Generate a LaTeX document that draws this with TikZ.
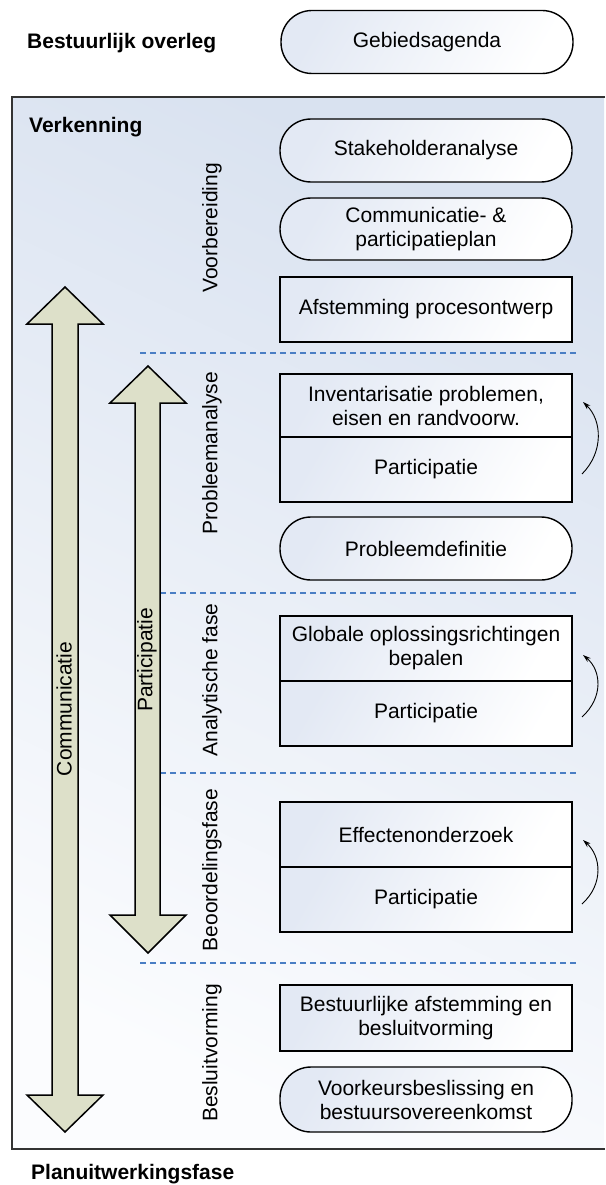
\documentclass[tikz,border=0pt]{standalone}
\usepackage{fontspec}
\setmainfont{Liberation Sans}
\usetikzlibrary{arrows.meta}
\begin{document}
\begin{tikzpicture}[x=1pt,y=-1pt,
  font=\fontsize{21}{24}\selectfont,
  frameline/.style={line width=1.4pt,draw=black!80},
  boxbase/.style={draw=black,line width=1.8pt,minimum width=292pt,inner sep=2pt,
     align=center,shading=axis,left color=boxblue,right color=white,shading angle=60},
  sqbox/.style={boxbase},
  pill/.style={boxbase,line width=1.4pt,rounded corners=31pt},
  phase/.style={rotate=90,inner sep=0pt},
  heading/.style={font=\fontsize{21}{24}\selectfont\bfseries,anchor=west,inner sep=0pt},
  bigarrow/.style={draw=black,line width=1.5pt,fill=arrowfill,line join=miter},
  divider/.style={dashed,dash pattern=on 6pt off 4pt,line width=2.8pt,draw=divblue},
  loop/.style={-{Stealth[length=8pt,width=5pt]},line width=0.9pt}
]
\definecolor{boxblue}{HTML}{E3E9F4}
\definecolor{arrowfill}{HTML}{DDE0C9}
\definecolor{divblue}{HTML}{4A7EC4}
\definecolor{frameA}{HTML}{D9E2F0}
\definecolor{frameC}{HTML}{FBFCFE}

\useasboundingbox (0,0) rectangle (605,1185);

% outer frame of the exploration phase (open to the right)
\shade[shading=axis,left color=frameA,right color=frameC,shading angle=-25]
  (12,97) rectangle (604,1149);
\draw[frameline] (605,97) -- (12,97) -- (12,1149) -- (605,1149);

% headings
\node[heading] (hOverleg) at (27,43) {Bestuurlijk overleg};
\node[heading] (hVerk) at (29,127) {Verkenning};
\node[heading] (hPlan) at (31,1174) {Planuitwerkingsfase};

% phase labels
\node[phase] (pVoor) at (212,228) {Voorbereiding};
\node[phase] (pProb) at (212,453) {Probleemanalyse};
\node[phase] (pAna)  at (212,680) {Analytische fase};
\node[phase] (pBeo)  at (212,870) {Beoordelingsfase};
\node[phase] (pBes)  at (212,1053) {Besluitvorming};

% phase dividers
\foreach \yy/\nm in {353/dA,593/dB,773/dC,963/dD}{
  \coordinate (\nm l) at (140,\yy);
  \coordinate (\nm r) at (578,\yy);
  \draw[divider] (\nm l) -- (\nm r);
}

% double arrows
\draw[bigarrow] (65,287) -- (103,324) -- (78,324) -- (78,1095) -- (103,1095)
  -- (65,1132) -- (27,1095) -- (52,1095) -- (52,324) -- (27,324) -- cycle;
\node[rotate=90,inner sep=0pt] (lComm) at (64,709) {Communicatie};

\draw[bigarrow] (148,366) -- (186,403) -- (160,403) -- (160,915) -- (186,915)
  -- (148,953) -- (110,915) -- (135,915) -- (135,403) -- (110,403) -- cycle;
\node[rotate=90,inner sep=0pt] (lPart) at (147,660) {Participatie};

% activity boxes
\node[pill,minimum height=63pt] (geb) at (427,42) {Gebiedsagenda};
\node[pill,minimum height=63pt] (stake) at (426,150.5) {Stakeholderanalyse};
\node[pill,minimum height=62pt] (cpp) at (426,229) {Communicatie- \&\\participatieplan};
\node[sqbox,minimum height=65pt] (afst) at (426,309.5) {Afstemming procesontwerp};

\node[sqbox,minimum height=63pt] (inv) at (426,405.5) {Inventarisatie problemen,\\eisen en randvoorw.};
\node[sqbox,minimum height=65pt] (invP) at (426,469.5) {Participatie};

\node[pill,minimum height=63pt] (pdef) at (426,548.5) {Probleemdefinitie};

\node[sqbox,minimum height=65pt] (glob) at (426,648.5) {Globale oplossingsrichtingen\\bepalen};
\node[sqbox,minimum height=65pt] (globP) at (426,713.5) {Participatie};

\node[sqbox,minimum height=65pt] (eff) at (426,834.5) {Effectenonderzoek};
\node[sqbox,minimum height=65pt] (effP) at (426,899.5) {Participatie};

\node[sqbox,minimum height=66pt] (bafst) at (426,1018) {Bestuurlijke afstemming en\\besluitvorming};
\node[pill,minimum height=65pt] (vkb) at (426,1099.5) {Voorkeursbeslissing en\\bestuursovereenkomst};

% feedback loops beside the participation steps
\coordinate (invT) at (582,474);
\coordinate (invH) at (583,402);
\draw[loop] (invT) .. controls (604,452) and (602,420) .. (invH);
\coordinate (globT) at (582,717);
\coordinate (globH) at (583,655);
\draw[loop] (globT) .. controls (604,697) and (601,670) .. (globH);
\coordinate (effT) at (582,904);
\coordinate (effH) at (583,840);
\draw[loop] (effT) .. controls (604,884) and (601,856) .. (effH);
\end{tikzpicture}
\end{document}
